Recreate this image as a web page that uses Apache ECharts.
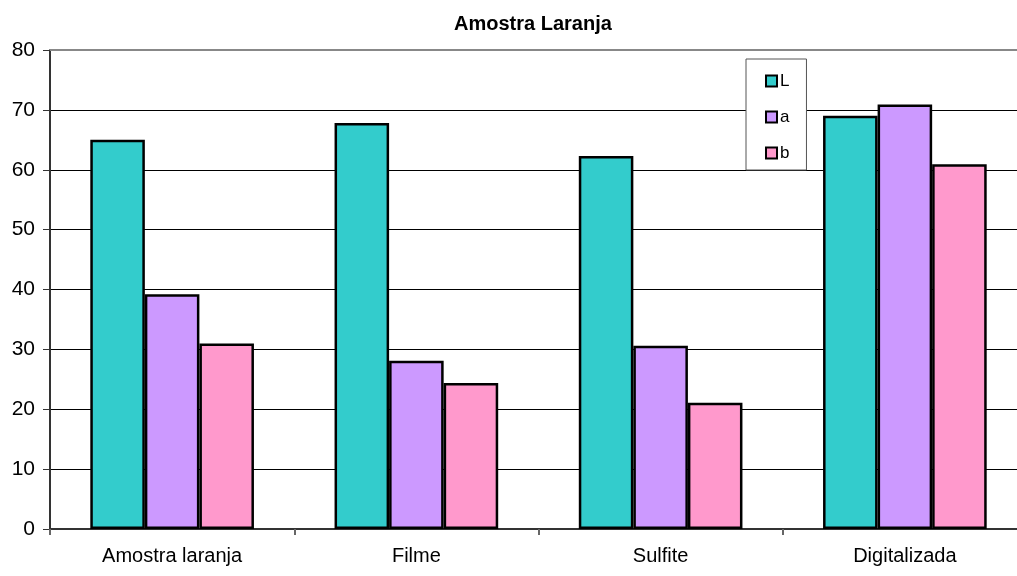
<!DOCTYPE html>
<html>
<head>
<meta charset="utf-8">
<script src="https://cdn.jsdelivr.net/npm/echarts@6/dist/echarts.min.js"></script>
<style>
  html, body { margin: 0; padding: 0; background: #fff; }
  #chart { width: 1017px; height: 576px; }
</style>
</head>
<body>
<div id="chart"></div>
<script>
// categorias e valores
var categorias = ['Amostra laranja', 'Filme', 'Sulfite', 'Digitalizada'];
var serieL = [65.0, 67.8, 62.3, 69.0];
var serieA = [39.2, 28.1, 30.6, 70.9];
var serieB = [31.0, 24.4, 21.1, 60.9];
var ticksY = [0, 10, 20, 30, 40, 50, 60, 70, 80];

var fonte = "'Liberation Sans', Arial, sans-serif";

var mychart = echarts.init(document.getElementById('chart'));

function barra(nome, dados, cor) {
    return {
        name: nome,
        type: 'bar',
        data: dados,
        barGap: '0%',
        barCategoryGap: '33%',
        itemStyle: {
            color: cor,
            borderColor: '#000',
            borderWidth: 2.5
        }
    };
}

var option = {
    animation: false,
    backgroundColor: '#fff',
    title: {
        text: 'Amostra Laranja',
        left: 449,
        top: 9,
        textStyle: {
            fontFamily: fonte,
            fontSize: 20,
            fontWeight: 'bold',
            color: '#000'
        }
    },
    legend: {
        orient: 'vertical',
        left: 746,
        top: 59,
        padding: [13, 17, 8, 19],
        itemGap: 18,
        itemWidth: 11,
        itemHeight: 11,
        backgroundColor: '#fff',
        borderColor: '#555',
        borderWidth: 1,
        borderRadius: 0,
        icon: 'rect',
        data: ['L', 'a', 'b'],
        itemStyle: { borderColor: '#000', borderWidth: 2 },
        textStyle: {
            fontFamily: fonte,
            fontSize: 17,
            lineHeight: 18,
            padding: [0, 0, 0, -2],
            color: '#000'
        }
    },
    grid: {
        left: 50,
        top: 50,
        right: -10,
        bottom: 47,
        containLabel: false,
        outerBoundsMode: 'none'
    },
    xAxis: [
        {
            type: 'category',
            data: categorias,
            axisLine: { lineStyle: { color: '#333', width: 2 } },
            axisTick: { show: true, length: 6, lineStyle: { color: '#666', width: 2 } },
            axisLabel: {
                margin: 17,
                fontFamily: fonte,
                fontSize: 20,
                color: '#000'
            }
        },
        {
            // borda superior cinza da área do gráfico
            type: 'category',
            position: 'top',
            data: categorias,
            axisLine: { lineStyle: { color: '#888', width: 2 } },
            axisTick: { show: false },
            axisLabel: { show: false }
        }
    ],
    yAxis: {
        type: 'value',
        min: ticksY[0],
        max: ticksY[ticksY.length - 1],
        interval: 10,
        axisLine: { show: true, lineStyle: { color: '#333', width: 2 } },
        axisTick: { show: true, length: 7, lineStyle: { color: '#333', width: 1 } },
        axisLabel: {
            margin: 15,
            fontFamily: fonte,
            fontSize: 21,
            color: '#000'
        },
        splitLine: { show: true, lineStyle: { color: '#000', width: 1 } }
    },
    series: [
        barra('L', serieL, '#33CCCC'),
        barra('a', serieA, '#CC99FF'),
        barra('b', serieB, '#FF99CC')
    ]
};

mychart.setOption(option);
</script>
</body>
</html>
